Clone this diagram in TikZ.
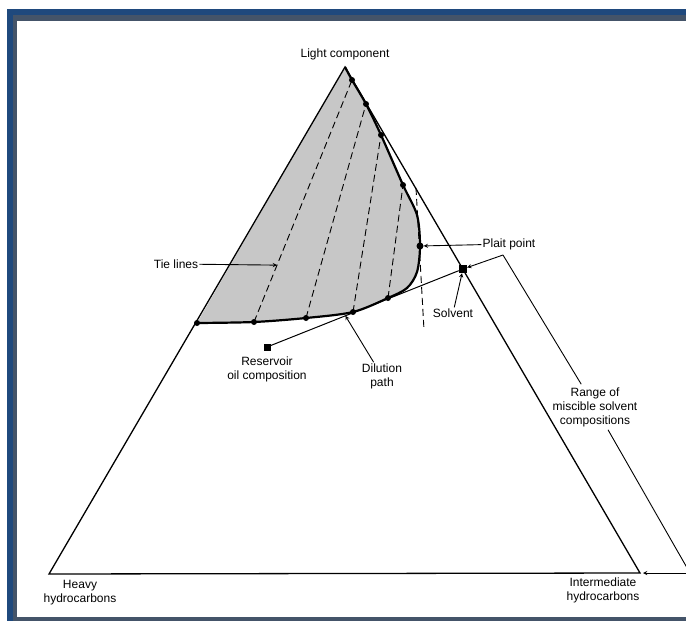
\documentclass[tikz,border=0pt]{standalone}
\usepackage{fontspec}
\setsansfont{Liberation Sans}
\usepackage{tikz}
\usetikzlibrary{arrows,positioning,calc}
\definecolor{bordoblu}{HTML}{1F497D}
\definecolor{bordogrigio}{HTML}{445469}
\tikzstyle{puntonero} = [circle,fill=black,inner sep=0pt,minimum size=6pt]
\tikzstyle{quadratonero} = [rectangle,fill=black,inner sep=0pt,minimum size=8pt]
\tikzstyle{etichetta} = [align=center,inner sep=1pt,font=\sffamily\fontsize{12}{14}\selectfont]
\tikzstyle{freccia} = [line width=0.9pt,->,>=stealth]
\tikzstyle{legame} = [line width=0.9pt,dash pattern=on 7pt off 4pt]
\tikzstyle{lato} = [line width=1.3pt]

\begin{document}
\begin{tikzpicture}[x=1pt,y=-1pt]
\useasboundingbox (0,0) rectangle (686,621);

% cornice
\fill[bordoblu] (7,9) rectangle (720,660);
\fill[bordogrigio] (13,15) rectangle (712,650);
\fill[white] (17,21) rectangle (700,617);

\coordinate (vtop)   at (345,67);
\coordinate (vleft)  at (49,574);
\coordinate (vright) at (640,573);

% zona bifase
\fill[black!22] (197,323) -- plot[smooth] coordinates {(345,67) (352,80) (366,104) (381,135) (403,185) (417,215) (420,246) (417,272) (407,288) (388,298) (353,312) (306,318) (254,322) (197,323)} -- cycle;

\draw[lato] (vtop) -- (vleft) -- (vright) -- cycle;
\draw[line width=2.2pt] plot[smooth] coordinates {(345,67) (352,80) (366,104) (381,135) (403,185) (417,215) (420,246) (417,272) (407,288) (388,298) (353,312) (306,318) (254,322) (197,323)};

\node (t1)    [puntonero] at (352,80) {};
\node (t2)    [puntonero] at (366,104) {};
\node (t3)    [puntonero] at (381,135) {};
\node (t4)    [puntonero] at (403,185) {};
\node (plait) [puntonero,minimum size=7pt] at (420,246) {};
\node (b4)    [puntonero] at (388,298) {};
\node (b3)    [puntonero] at (353,312) {};
\node (b2)    [puntonero] at (306,318) {};
\node (b1)    [puntonero] at (254,322) {};
\node (b0)    [puntonero] at (197,323) {};

% linee di legame
\draw[legame] (b1.center) -- (t1.center);
\draw[legame] (b2.center) -- (t2.center);
\draw[legame] (b3.center) -- (t3.center);
\draw[legame] (b4.center) -- (t4.center);
\coordinate (tg1) at (416,188);
\coordinate (tg2) at (424,330);
\draw[legame] (tg1) -- (tg2);

\node (solvente)  [quadratonero] at (463,269) {};
\node (serbatoio) [quadratonero,minimum size=7pt] at (267,347) {};
\draw[line width=1pt] (serbatoio) -- (solvente);

\node (luce)      [etichetta,above=6pt of vtop] {Light component};
\node (pesanti)   [etichetta,below=5pt of vleft,xshift=31pt] {Heavy\\hydrocarbons};
\node (intermedi) [etichetta,below=4pt of vright,xshift=-37pt] {Intermediate\\hydrocarbons};

\node (tie) [etichetta] at (176,264) {Tie lines};
\coordinate (ptie) at ($(b1)!0.235!(t1)$);
\draw[freccia] (tie) -- (ptie);

\node (plaitlab) [etichetta] at (509,244) {Plait point};
\draw[freccia] (plaitlab) -- (plait);

\node (solvlab) [etichetta] at (453,313) {Solvent};
\draw[freccia] (solvlab) -- (solvente);

\node (serblab) [etichetta,below=5pt of serbatoio] {Reservoir\\oil composition};

\node (dillab) [etichetta] at (382,376) {Dilution\\path};
\coordinate (pdil) at ($(serbatoio)!0.4!(solvente)$);
\draw[freccia] (dillab) -- (pdil);

% intervallo dei solventi miscibili
\node (range) [etichetta,inner sep=3pt] at (595,407) {Range of\\miscible solvent\\compositions};
\coordinate (stop) at (503,255);
\coordinate (sbot) at (690,573);
\draw[line width=0.9pt] (stop) -- (range);
\draw[line width=0.9pt] (range) -- (sbot);
\draw[freccia] (stop) -- (solvente);
\draw[freccia,shorten >=3pt] (sbot) -- (vright);

\end{tikzpicture}
\end{document}
